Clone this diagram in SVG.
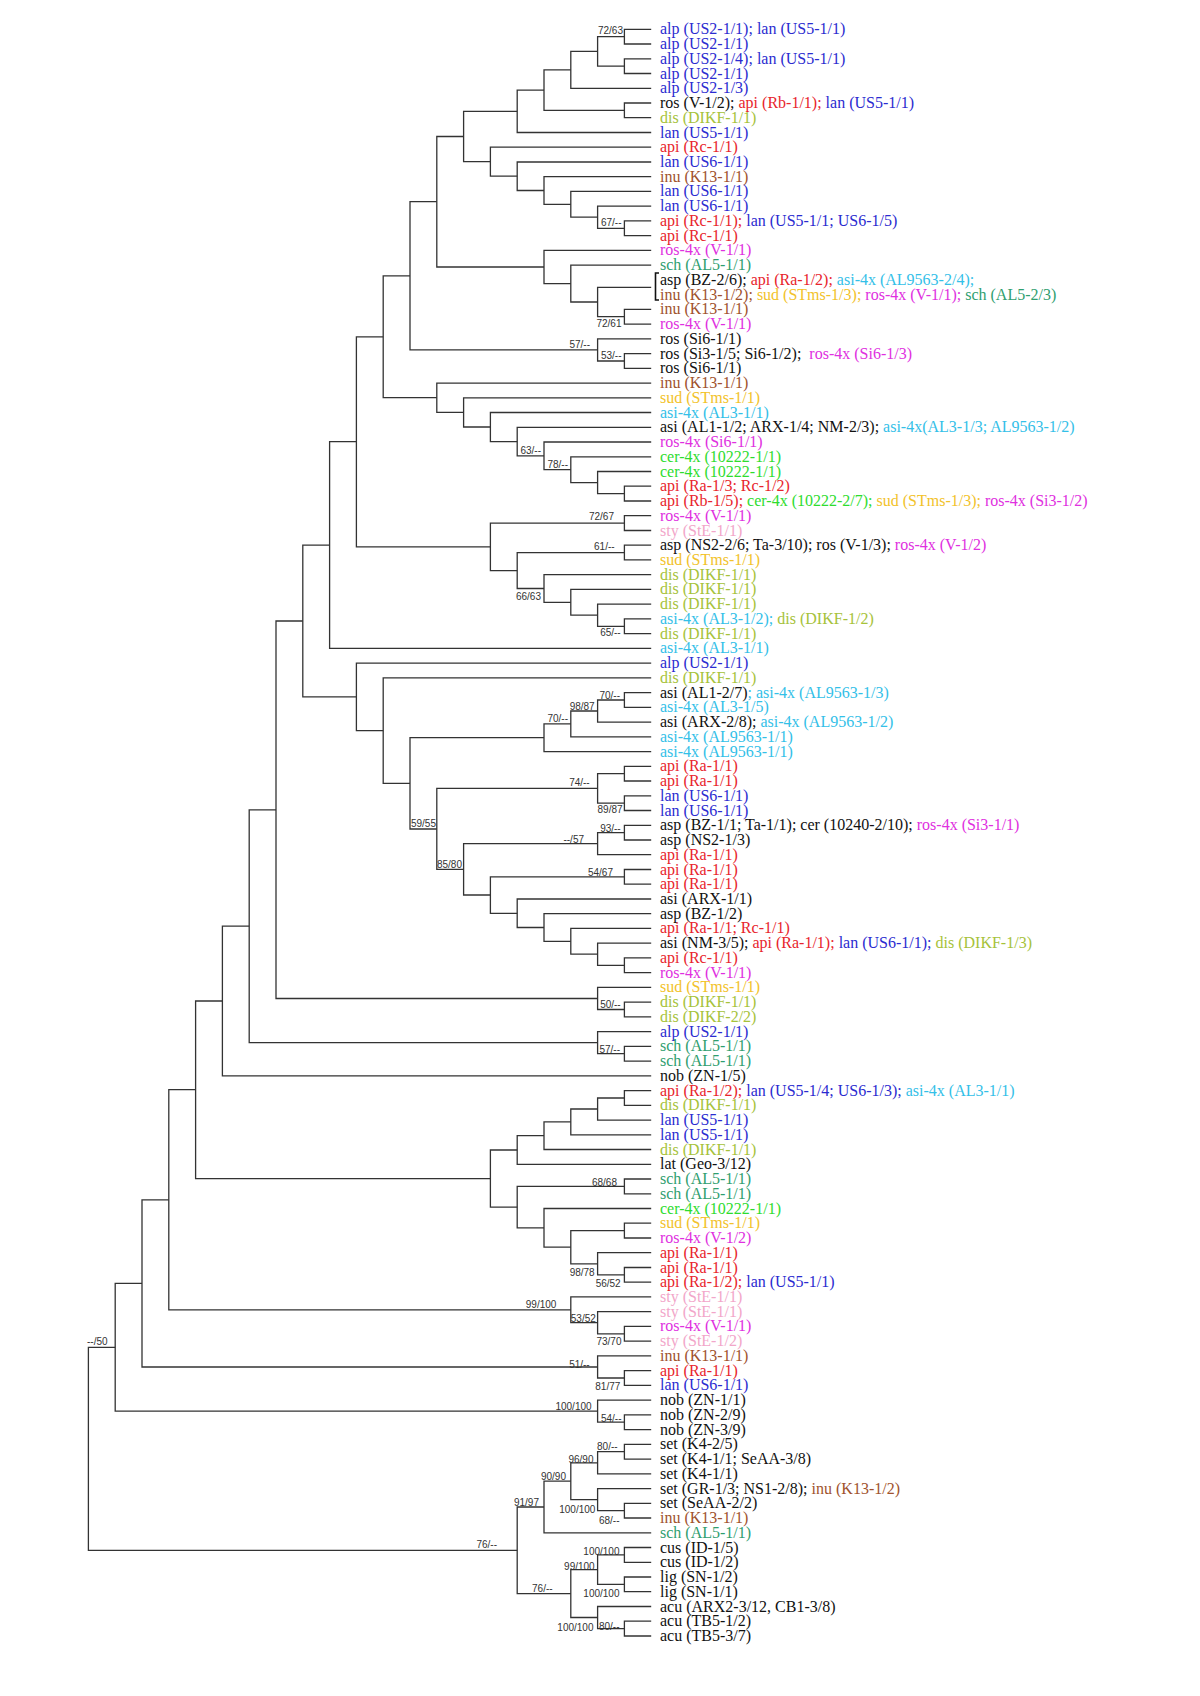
<svg xmlns="http://www.w3.org/2000/svg" width="1200" height="1696" viewBox="0 0 1200 1696">
<style>
.t{font-family:"Liberation Serif","Times New Roman",serif;font-size:16px;fill:#111}
.s{font-family:"Liberation Sans",Arial,sans-serif;font-size:10px;fill:#333;text-anchor:end}
.B{fill:#2b2bd0}.R{fill:#e8242c}.D{fill:#a6c23a}.N{fill:#a0522d}.M{fill:#e030e0}.T{fill:#2f9e6f}.C{fill:#33c0e8}.G{fill:#f2c22a}.E{fill:#2edc2e}.P{fill:#f2a6c9}.K{fill:#111}
#connectors path{fill:none;stroke:#333;stroke-width:1.3}
</style>
<rect width="1200" height="1696" fill="#fff"/>
<g id="connectors">
<path d="M651.2 29.3H624.4V44H651.2"/>
<path d="M651.2 58.8H624.4V73.5H651.2"/>
<path d="M624.4 36.7H597.6V66.2H624.4"/>
<path d="M597.6 51.4H570.8V88.3H651.2"/>
<path d="M651.2 103H624.4V117.7H651.2"/>
<path d="M570.8 69.8H544V110.4H624.4"/>
<path d="M544 90.1H517.2V132.5H651.2"/>
<path d="M651.2 220.9H624.4V235.7H651.2"/>
<path d="M651.2 206.2H597.6V228.3H624.4"/>
<path d="M651.2 191.4H570.8V217.2H597.6"/>
<path d="M651.2 176.7H544V204.3H570.8"/>
<path d="M651.2 162H517.2V190.5H544"/>
<path d="M651.2 147.2H490.4V176.2H517.2"/>
<path d="M517.2 111.3H463.6V161.7H490.4"/>
<path d="M651.2 309.4H624.4V324.1H651.2"/>
<path d="M651.2 287.3H597.6V316.7H624.4"/>
<path d="M651.2 265.1H570.8V302H597.6"/>
<path d="M651.2 250.4H544V283.6H570.8"/>
<path d="M463.6 136.5H436.8V267H544"/>
<path d="M651.2 353.6H624.4V368.3H651.2"/>
<path d="M651.2 338.8H597.6V361H624.4"/>
<path d="M436.8 201.7H410V349.9H597.6"/>
<path d="M651.2 486.2H624.4V501H651.2"/>
<path d="M651.2 471.5H597.6V493.6H624.4"/>
<path d="M651.2 456.8H570.8V482.6H597.6"/>
<path d="M651.2 442H544V469.7H570.8"/>
<path d="M651.2 427.3H517.2V455.8H544"/>
<path d="M651.2 412.5H490.4V441.6H517.2"/>
<path d="M651.2 397.8H463.6V427H490.4"/>
<path d="M651.2 383.1H436.8V412.4H463.6"/>
<path d="M410 275.8H383.2V397.7H436.8"/>
<path d="M651.2 515.7H624.4V530.5H651.2"/>
<path d="M651.2 545.2H624.4V559.9H651.2"/>
<path d="M651.2 618.9H624.4V633.6H651.2"/>
<path d="M651.2 604.2H597.6V626.3H624.4"/>
<path d="M651.2 589.4H570.8V615.2H597.6"/>
<path d="M651.2 574.7H544V602.3H570.8"/>
<path d="M624.4 552.6H517.2V588.5H544"/>
<path d="M624.4 523.1H490.4V570.6H517.2"/>
<path d="M383.2 336.8H356.4V546.8H490.4"/>
<path d="M356.4 441.7H329.6V648.4H651.2"/>
<path d="M651.2 692.6H624.4V707.3H651.2"/>
<path d="M624.4 700H597.6V722.1H651.2"/>
<path d="M597.6 711H570.8V736.8H651.2"/>
<path d="M570.8 723.9H544V751.6H651.2"/>
<path d="M651.2 766.3H624.4V781H651.2"/>
<path d="M651.2 795.8H624.4V810.5H651.2"/>
<path d="M624.4 773.7H597.6V803.2H624.4"/>
<path d="M651.2 825.3H624.4V840H651.2"/>
<path d="M624.4 832.6H597.6V854.7H651.2"/>
<path d="M651.2 869.5H624.4V884.2H651.2"/>
<path d="M651.2 957.9H624.4V972.7H651.2"/>
<path d="M651.2 943.2H597.6V965.3H624.4"/>
<path d="M651.2 928.4H570.8V954.2H597.6"/>
<path d="M651.2 913.7H544V941.3H570.8"/>
<path d="M651.2 899H517.2V927.5H544"/>
<path d="M624.4 876.9H490.4V913.3H517.2"/>
<path d="M597.6 843.7H463.6V895H490.4"/>
<path d="M597.6 788.4H436.8V869.3H463.6"/>
<path d="M544 737.7H410V829H436.8"/>
<path d="M651.2 677.9H383.2V783.3H410"/>
<path d="M651.2 663.1H356.4V730.6H383.2"/>
<path d="M329.6 545.1H302.8V696.9H356.4"/>
<path d="M651.2 1002.1H624.4V1016.9H651.2"/>
<path d="M651.2 987.4H597.6V1009.5H624.4"/>
<path d="M302.8 621H276V998.5H597.6"/>
<path d="M651.2 1046.4H624.4V1061.1H651.2"/>
<path d="M651.2 1031.6H597.6V1053.7H624.4"/>
<path d="M276 809.8H249.2V1042.7H597.6"/>
<path d="M249.2 926.2H222.4V1075.8H651.2"/>
<path d="M651.2 1090.6H624.4V1105.3H651.2"/>
<path d="M624.4 1098H597.6V1120.1H651.2"/>
<path d="M597.6 1109H570.8V1134.8H651.2"/>
<path d="M570.8 1121.9H544V1149.5H651.2"/>
<path d="M544 1135.7H517.2V1164.3H651.2"/>
<path d="M651.2 1179H624.4V1193.8H651.2"/>
<path d="M651.2 1223.2H624.4V1238H651.2"/>
<path d="M651.2 1267.5H624.4V1282.2H651.2"/>
<path d="M651.2 1252.7H597.6V1274.8H624.4"/>
<path d="M624.4 1230.6H570.8V1263.8H597.6"/>
<path d="M651.2 1208.5H544V1247.2H570.8"/>
<path d="M624.4 1186.4H517.2V1227.9H544"/>
<path d="M517.2 1150H490.4V1207.2H517.2"/>
<path d="M222.4 1001H195.6V1178.6H490.4"/>
<path d="M651.2 1326.4H624.4V1341.2H651.2"/>
<path d="M651.2 1311.7H597.6V1333.8H624.4"/>
<path d="M651.2 1296.9H570.8V1322.7H597.6"/>
<path d="M195.6 1089.7H168.8V1309.8H570.8"/>
<path d="M651.2 1370.6H624.4V1385.4H651.2"/>
<path d="M651.2 1355.9H597.6V1378H624.4"/>
<path d="M168.8 1199.8H142V1367H597.6"/>
<path d="M651.2 1414.9H624.4V1429.6H651.2"/>
<path d="M651.2 1400.1H597.6V1422.2H624.4"/>
<path d="M142 1283.4H115.2V1411.2H597.6"/>
<path d="M651.2 1444.3H624.4V1459.1H651.2"/>
<path d="M624.4 1451.7H597.6V1473.8H651.2"/>
<path d="M651.2 1503.3H624.4V1518H651.2"/>
<path d="M651.2 1488.6H597.6V1510.7H624.4"/>
<path d="M597.6 1462.8H570.8V1499.6H597.6"/>
<path d="M570.8 1481.2H544V1532.8H651.2"/>
<path d="M651.2 1547.5H624.4V1562.3H651.2"/>
<path d="M651.2 1577H624.4V1591.7H651.2"/>
<path d="M624.4 1554.9H597.6V1584.4H624.4"/>
<path d="M651.2 1621.2H624.4V1636H651.2"/>
<path d="M651.2 1606.5H597.6V1628.6H624.4"/>
<path d="M597.6 1569.6H570.8V1617.5H597.6"/>
<path d="M544 1507H517.2V1593.6H570.8"/>
<path d="M115.2 1347.4H88.4V1550.3H517.2"/>
<path d="M659 273H655.5V300H659" style="stroke:#111;stroke-width:1.6"/>
</g>
<g id="support">
<text class="s" x="623" y="34">72/63</text>
<text class="s" x="621.5" y="226.2">67/--</text>
<text class="s" x="621.5" y="326.8">72/61</text>
<text class="s" x="590" y="347.5">57/--</text>
<text class="s" x="621.5" y="358.8">53/--</text>
<text class="s" x="541" y="453.5">63/--</text>
<text class="s" x="568" y="467.5">78/--</text>
<text class="s" x="614" y="520.2">72/67</text>
<text class="s" x="614.6" y="549.5">61/--</text>
<text class="s" x="541" y="599.5">66/63</text>
<text class="s" x="620.7" y="636.2">65/--</text>
<text class="s" x="620" y="699.2">70/--</text>
<text class="s" x="594.7" y="709.5">98/87</text>
<text class="s" x="568" y="721.8">70/--</text>
<text class="s" x="589.7" y="786.2">74/--</text>
<text class="s" x="622.6" y="812.8">89/87</text>
<text class="s" x="436" y="826.8">59/55</text>
<text class="s" x="620.7" y="831.8">93/--</text>
<text class="s" x="584" y="842.5">--/57</text>
<text class="s" x="462" y="867.5">85/80</text>
<text class="s" x="613" y="875.5">54/67</text>
<text class="s" x="620.7" y="1008.2">50/--</text>
<text class="s" x="620" y="1052.8">57/--</text>
<text class="s" x="617" y="1185.8">68/68</text>
<text class="s" x="594.7" y="1275.5">98/78</text>
<text class="s" x="620.7" y="1286.8">56/52</text>
<text class="s" x="556.4" y="1307.8">99/100</text>
<text class="s" x="595.8" y="1321.8">53/52</text>
<text class="s" x="621.5" y="1345.2">73/70</text>
<text class="s" x="107.6" y="1345.2">--/50</text>
<text class="s" x="589.7" y="1367.8">51/--</text>
<text class="s" x="620.3" y="1389.5">81/77</text>
<text class="s" x="591.6" y="1410.2">100/100</text>
<text class="s" x="621.5" y="1421.8">54/--</text>
<text class="s" x="617.6" y="1450.2">80/--</text>
<text class="s" x="593.5" y="1462.8">96/90</text>
<text class="s" x="566" y="1480.2">90/90</text>
<text class="s" x="539" y="1506.2">91/97</text>
<text class="s" x="595.4" y="1512.5">100/100</text>
<text class="s" x="619.5" y="1523.5">68/--</text>
<text class="s" x="497" y="1547.5">76/--</text>
<text class="s" x="619.5" y="1554.5">100/100</text>
<text class="s" x="594.7" y="1569.5">99/100</text>
<text class="s" x="552.6" y="1592.2">76/--</text>
<text class="s" x="619.5" y="1596.8">100/100</text>
<text class="s" x="593.5" y="1630.8">100/100</text>
<text class="s" x="619.5" y="1630.2">80/--</text>
</g>
<g id="leaves">
<g id="leaf-0"><text class="t B" x="660" y="34.3">alp (US2-1/1); lan (US5-1/1)</text></g>
<g id="leaf-1"><text class="t B" x="660" y="49">alp (US2-1/1)</text></g>
<g id="leaf-2"><text class="t B" x="660" y="63.8">alp (US2-1/4); lan (US5-1/1)</text></g>
<g id="leaf-3"><text class="t B" x="660" y="78.5">alp (US2-1/1)</text></g>
<g id="leaf-4"><text class="t B" x="660" y="93.3">alp (US2-1/3)</text></g>
<g id="leaf-5"><text class="t" x="660" y="108"><tspan class="K">ros (V-1/2);</tspan><tspan class="R"> api (Rb-1/1);</tspan><tspan class="B"> lan (US5-1/1)</tspan></text></g>
<g id="leaf-6"><text class="t D" x="660" y="122.7">dis (DIKF-1/1)</text></g>
<g id="leaf-7"><text class="t B" x="660" y="137.5">lan (US5-1/1)</text></g>
<g id="leaf-8"><text class="t R" x="660" y="152.2">api (Rc-1/1)</text></g>
<g id="leaf-9"><text class="t B" x="660" y="167">lan (US6-1/1)</text></g>
<g id="leaf-10"><text class="t N" x="660" y="181.7">inu (K13-1/1)</text></g>
<g id="leaf-11"><text class="t B" x="660" y="196.4">lan (US6-1/1)</text></g>
<g id="leaf-12"><text class="t B" x="660" y="211.2">lan (US6-1/1)</text></g>
<g id="leaf-13"><text class="t" x="660" y="225.9"><tspan class="R">api (Rc-1/1);</tspan><tspan class="B"> lan (US5-1/1; US6-1/5)</tspan></text></g>
<g id="leaf-14"><text class="t R" x="660" y="240.7">api (Rc-1/1)</text></g>
<g id="leaf-15"><text class="t M" x="660" y="255.4">ros-4x (V-1/1)</text></g>
<g id="leaf-16"><text class="t T" x="660" y="270.1">sch (AL5-1/1)</text></g>
<g id="leaf-17"><text class="t" x="660" y="284.9"><tspan class="K">asp (BZ-2/6);</tspan><tspan class="R"> api (Ra-1/2);</tspan><tspan class="C"> asi-4x (AL9563-2/4);</tspan></text>
<text class="t" x="660" y="299.6"><tspan class="N">inu (K13-1/2);</tspan><tspan class="G"> sud (STms-1/3);</tspan><tspan class="M"> ros-4x (V-1/1);</tspan><tspan class="T"> sch (AL5-2/3)</tspan></text></g>
<g id="leaf-19"><text class="t N" x="660" y="314.4">inu (K13-1/1)</text></g>
<g id="leaf-20"><text class="t M" x="660" y="329.1">ros-4x (V-1/1)</text></g>
<g id="leaf-21"><text class="t K" x="660" y="343.8">ros (Si6-1/1)</text></g>
<g id="leaf-22"><text class="t" x="660" y="358.6" xml:space="preserve"><tspan class="K">ros (Si3-1/5; Si6-1/2); </tspan><tspan class="M"> ros-4x (Si6-1/3)</tspan></text></g>
<g id="leaf-23"><text class="t K" x="660" y="373.3">ros (Si6-1/1)</text></g>
<g id="leaf-24"><text class="t N" x="660" y="388.1">inu (K13-1/1)</text></g>
<g id="leaf-25"><text class="t G" x="660" y="402.8">sud (STms-1/1)</text></g>
<g id="leaf-26"><text class="t C" x="660" y="417.5">asi-4x (AL3-1/1)</text></g>
<g id="leaf-27"><text class="t" x="660" y="432.3"><tspan class="K">asi (AL1-1/2; ARX-1/4; NM-2/3);</tspan><tspan class="C"> asi-4x(AL3-1/3; AL9563-1/2)</tspan></text></g>
<g id="leaf-28"><text class="t M" x="660" y="447">ros-4x (Si6-1/1)</text></g>
<g id="leaf-29"><text class="t E" x="660" y="461.8">cer-4x (10222-1/1)</text></g>
<g id="leaf-30"><text class="t E" x="660" y="476.5">cer-4x (10222-1/1)</text></g>
<g id="leaf-31"><text class="t R" x="660" y="491.2">api (Ra-1/3; Rc-1/2)</text></g>
<g id="leaf-32"><text class="t" x="660" y="506"><tspan class="R">api (Rb-1/5);</tspan><tspan class="E"> cer-4x (10222-2/7);</tspan><tspan class="G"> sud (STms-1/3);</tspan><tspan class="M"> ros-4x (Si3-1/2)</tspan></text></g>
<g id="leaf-33"><text class="t M" x="660" y="520.7">ros-4x (V-1/1)</text></g>
<g id="leaf-34"><text class="t P" x="660" y="535.5">sty (StE-1/1)</text></g>
<g id="leaf-35"><text class="t" x="660" y="550.2"><tspan class="K">asp (NS2-2/6; Ta-3/10); ros (V-1/3);</tspan><tspan class="M"> ros-4x (V-1/2)</tspan></text></g>
<g id="leaf-36"><text class="t G" x="660" y="564.9">sud (STms-1/1)</text></g>
<g id="leaf-37"><text class="t D" x="660" y="579.7">dis (DIKF-1/1)</text></g>
<g id="leaf-38"><text class="t D" x="660" y="594.4">dis (DIKF-1/1)</text></g>
<g id="leaf-39"><text class="t D" x="660" y="609.2">dis (DIKF-1/1)</text></g>
<g id="leaf-40"><text class="t" x="660" y="623.9"><tspan class="C">asi-4x (AL3-1/2);</tspan><tspan class="D"> dis (DIKF-1/2)</tspan></text></g>
<g id="leaf-41"><text class="t D" x="660" y="638.6">dis (DIKF-1/1)</text></g>
<g id="leaf-42"><text class="t C" x="660" y="653.4">asi-4x (AL3-1/1)</text></g>
<g id="leaf-43"><text class="t B" x="660" y="668.1">alp (US2-1/1)</text></g>
<g id="leaf-44"><text class="t D" x="660" y="682.9">dis (DIKF-1/1)</text></g>
<g id="leaf-45"><text class="t" x="660" y="697.6"><tspan class="K">asi (AL1-2/7)</tspan><tspan class="C">; asi-4x (AL9563-1/3)</tspan></text></g>
<g id="leaf-46"><text class="t C" x="660" y="712.3">asi-4x (AL3-1/5)</text></g>
<g id="leaf-47"><text class="t" x="660" y="727.1"><tspan class="K">asi (ARX-2/8);</tspan><tspan class="C"> asi-4x (AL9563-1/2)</tspan></text></g>
<g id="leaf-48"><text class="t C" x="660" y="741.8">asi-4x (AL9563-1/1)</text></g>
<g id="leaf-49"><text class="t C" x="660" y="756.6">asi-4x (AL9563-1/1)</text></g>
<g id="leaf-50"><text class="t R" x="660" y="771.3">api (Ra-1/1)</text></g>
<g id="leaf-51"><text class="t R" x="660" y="786">api (Ra-1/1)</text></g>
<g id="leaf-52"><text class="t B" x="660" y="800.8">lan (US6-1/1)</text></g>
<g id="leaf-53"><text class="t B" x="660" y="815.5">lan (US6-1/1)</text></g>
<g id="leaf-54"><text class="t" x="660" y="830.3"><tspan class="K">asp (BZ-1/1; Ta-1/1); cer (10240-2/10);</tspan><tspan class="M"> ros-4x (Si3-1/1)</tspan></text></g>
<g id="leaf-55"><text class="t K" x="660" y="845">asp (NS2-1/3)</text></g>
<g id="leaf-56"><text class="t R" x="660" y="859.7">api (Ra-1/1)</text></g>
<g id="leaf-57"><text class="t R" x="660" y="874.5">api (Ra-1/1)</text></g>
<g id="leaf-58"><text class="t R" x="660" y="889.2">api (Ra-1/1)</text></g>
<g id="leaf-59"><text class="t K" x="660" y="904">asi (ARX-1/1)</text></g>
<g id="leaf-60"><text class="t K" x="660" y="918.7">asp (BZ-1/2)</text></g>
<g id="leaf-61"><text class="t R" x="660" y="933.4">api (Ra-1/1; Rc-1/1)</text></g>
<g id="leaf-62"><text class="t" x="660" y="948.2"><tspan class="K">asi (NM-3/5);</tspan><tspan class="R"> api (Ra-1/1);</tspan><tspan class="B"> lan (US6-1/1);</tspan><tspan class="D"> dis (DIKF-1/3)</tspan></text></g>
<g id="leaf-63"><text class="t R" x="660" y="962.9">api (Rc-1/1)</text></g>
<g id="leaf-64"><text class="t M" x="660" y="977.7">ros-4x (V-1/1)</text></g>
<g id="leaf-65"><text class="t G" x="660" y="992.4">sud (STms-1/1)</text></g>
<g id="leaf-66"><text class="t D" x="660" y="1007.1">dis (DIKF-1/1)</text></g>
<g id="leaf-67"><text class="t D" x="660" y="1021.9">dis (DIKF-2/2)</text></g>
<g id="leaf-68"><text class="t B" x="660" y="1036.6">alp (US2-1/1)</text></g>
<g id="leaf-69"><text class="t T" x="660" y="1051.4">sch (AL5-1/1)</text></g>
<g id="leaf-70"><text class="t T" x="660" y="1066.1">sch (AL5-1/1)</text></g>
<g id="leaf-71"><text class="t K" x="660" y="1080.8">nob (ZN-1/5)</text></g>
<g id="leaf-72"><text class="t" x="660" y="1095.6"><tspan class="R">api (Ra-1/2);</tspan><tspan class="B"> lan (US5-1/4; US6-1/3);</tspan><tspan class="C"> asi-4x (AL3-1/1)</tspan></text></g>
<g id="leaf-73"><text class="t D" x="660" y="1110.3">dis (DIKF-1/1)</text></g>
<g id="leaf-74"><text class="t B" x="660" y="1125.1">lan (US5-1/1)</text></g>
<g id="leaf-75"><text class="t B" x="660" y="1139.8">lan (US5-1/1)</text></g>
<g id="leaf-76"><text class="t D" x="660" y="1154.5">dis (DIKF-1/1)</text></g>
<g id="leaf-77"><text class="t K" x="660" y="1169.3">lat (Geo-3/12)</text></g>
<g id="leaf-78"><text class="t T" x="660" y="1184">sch (AL5-1/1)</text></g>
<g id="leaf-79"><text class="t T" x="660" y="1198.8">sch (AL5-1/1)</text></g>
<g id="leaf-80"><text class="t E" x="660" y="1213.5">cer-4x (10222-1/1)</text></g>
<g id="leaf-81"><text class="t G" x="660" y="1228.2">sud (STms-1/1)</text></g>
<g id="leaf-82"><text class="t M" x="660" y="1243">ros-4x (V-1/2)</text></g>
<g id="leaf-83"><text class="t R" x="660" y="1257.7">api (Ra-1/1)</text></g>
<g id="leaf-84"><text class="t R" x="660" y="1272.5">api (Ra-1/1)</text></g>
<g id="leaf-85"><text class="t" x="660" y="1287.2"><tspan class="R">api (Ra-1/2);</tspan><tspan class="B"> lan (US5-1/1)</tspan></text></g>
<g id="leaf-86"><text class="t P" x="660" y="1301.9">sty (StE-1/1)</text></g>
<g id="leaf-87"><text class="t P" x="660" y="1316.7">sty (StE-1/1)</text></g>
<g id="leaf-88"><text class="t M" x="660" y="1331.4">ros-4x (V-1/1)</text></g>
<g id="leaf-89"><text class="t P" x="660" y="1346.2">sty (StE-1/2)</text></g>
<g id="leaf-90"><text class="t N" x="660" y="1360.9">inu (K13-1/1)</text></g>
<g id="leaf-91"><text class="t R" x="660" y="1375.6">api (Ra-1/1)</text></g>
<g id="leaf-92"><text class="t B" x="660" y="1390.4">lan (US6-1/1)</text></g>
<g id="leaf-93"><text class="t K" x="660" y="1405.1">nob (ZN-1/1)</text></g>
<g id="leaf-94"><text class="t K" x="660" y="1419.9">nob (ZN-2/9)</text></g>
<g id="leaf-95"><text class="t K" x="660" y="1434.6">nob (ZN-3/9)</text></g>
<g id="leaf-96"><text class="t K" x="660" y="1449.3">set (K4-2/5)</text></g>
<g id="leaf-97"><text class="t K" x="660" y="1464.1">set (K4-1/1; SeAA-3/8)</text></g>
<g id="leaf-98"><text class="t K" x="660" y="1478.8">set (K4-1/1)</text></g>
<g id="leaf-99"><text class="t" x="660" y="1493.6"><tspan class="K">set (GR-1/3; NS1-2/8);</tspan><tspan class="N"> inu (K13-1/2)</tspan></text></g>
<g id="leaf-100"><text class="t K" x="660" y="1508.3">set (SeAA-2/2)</text></g>
<g id="leaf-101"><text class="t N" x="660" y="1523">inu (K13-1/1)</text></g>
<g id="leaf-102"><text class="t T" x="660" y="1537.8">sch (AL5-1/1)</text></g>
<g id="leaf-103"><text class="t K" x="660" y="1552.5">cus (ID-1/5)</text></g>
<g id="leaf-104"><text class="t K" x="660" y="1567.3">cus (ID-1/2)</text></g>
<g id="leaf-105"><text class="t K" x="660" y="1582">lig (SN-1/2)</text></g>
<g id="leaf-106"><text class="t K" x="660" y="1596.7">lig (SN-1/1)</text></g>
<g id="leaf-107"><text class="t K" x="660" y="1611.5">acu (ARX2-3/12, CB1-3/8)</text></g>
<g id="leaf-108"><text class="t K" x="660" y="1626.2">acu (TB5-1/2)</text></g>
<g id="leaf-109"><text class="t K" x="660" y="1641">acu (TB5-3/7)</text></g>
</g>
</svg>
